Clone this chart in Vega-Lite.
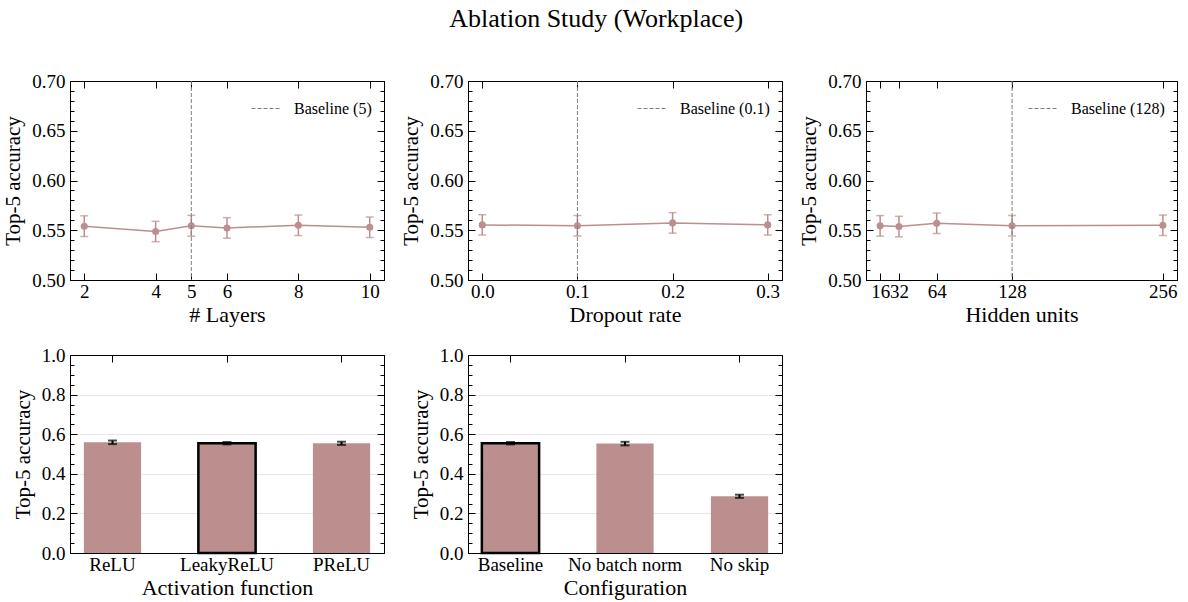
{
  "$schema": "https://vega.github.io/schema/vega-lite/v6.json",
  "title": {"text": "Ablation Study (Workplace)", "anchor": "middle", "offset": 40, "dx": 6},
  "padding": {"left": 2, "right": 8, "top": 5, "bottom": 5},
  "background": "white",
  "columns": 3,
  "spacing": {"row": 75, "column": 84},
  "bounds": "flush",
  "resolve": {"scale": {"color": "independent"}, "legend": {"color": "independent"}},
  "concat": [
        {
          "width": 314, "height": 199,
          "data": {"values": [
            {"layers": 2, "acc": 0.5540, "lo": 0.5437, "hi": 0.5645},
            {"layers": 4, "acc": 0.5487, "lo": 0.5385, "hi": 0.5590},
            {"layers": 5, "acc": 0.5545, "lo": 0.5440, "hi": 0.5650},
            {"layers": 6, "acc": 0.5523, "lo": 0.5420, "hi": 0.5627},
            {"layers": 8, "acc": 0.5550, "lo": 0.5447, "hi": 0.5653},
            {"layers": 10, "acc": 0.5530, "lo": 0.5427, "hi": 0.5633}
          ]},
          "layer": [
            {"mark": {"type": "errorbar", "color": "#BC8F8F", "thickness": 1.5, "ticks": {"size": 8}},
             "encoding": {
               "x": {"field": "layers", "type": "quantitative", "scale": {"domain": [1.6, 10.4], "nice": false, "zero": false}, "axis": null},
               "y": {"field": "lo", "type": "quantitative", "scale": {"domain": [0.5, 0.7], "nice": false, "zero": false}, "axis": null},
               "y2": {"field": "hi"}}},
            {"mark": {"type": "line", "color": "#BC8F8F", "strokeWidth": 1.5},
             "encoding": {
               "x": {"field": "layers", "type": "quantitative", "scale": {"domain": [1.6, 10.4], "nice": false, "zero": false}, "axis": {"title": "# Layers", "values": [2, 4, 5, 6, 8, 10], "format": "d"}},
               "y": {"field": "acc", "type": "quantitative", "scale": {"domain": [0.5, 0.7], "nice": false, "zero": false}, "axis": {"title": "Top-5 accuracy", "values": [0.5, 0.55, 0.6, 0.65, 0.7], "format": ".2f"}}}},
            {"mark": {"type": "point", "filled": true, "size": 50, "color": "#BC8F8F", "opacity": 1},
             "encoding": {
               "x": {"field": "layers", "type": "quantitative", "scale": {"domain": [1.6, 10.4], "nice": false, "zero": false}, "axis": {"orient": "top", "labels": false, "title": null, "values": [2, 4, 5, 6, 8, 10]}},
               "y": {"field": "acc", "type": "quantitative", "scale": {"domain": [0.5, 0.7], "nice": false, "zero": false}, "axis": {"orient": "right", "labels": false, "title": null, "values": [0.5, 0.55, 0.6, 0.65, 0.7]}}}},
            {"mark": {"type": "point", "opacity": 0},
             "encoding": {
               "x": {"field": "layers", "type": "quantitative", "scale": {"domain": [1.6, 10.4], "nice": false, "zero": false}, "axis": null},
               "y": {"field": "acc", "type": "quantitative", "scale": {"domain": [0.5, 0.7], "nice": false, "zero": false}, "axis": {"orient": "left", "labels": false, "title": null, "domain": false, "tickSize": -4, "values": [0.51, 0.52, 0.53, 0.54, 0.56, 0.57, 0.58, 0.59, 0.61, 0.62, 0.63, 0.64, 0.66, 0.67, 0.68, 0.69]}}}},
            {"mark": {"type": "point", "opacity": 0},
             "encoding": {
               "x": {"field": "layers", "type": "quantitative", "scale": {"domain": [1.6, 10.4], "nice": false, "zero": false}, "axis": null},
               "y": {"field": "acc", "type": "quantitative", "scale": {"domain": [0.5, 0.7], "nice": false, "zero": false}, "axis": {"orient": "right", "labels": false, "title": null, "domain": false, "tickSize": -4, "values": [0.51, 0.52, 0.53, 0.54, 0.56, 0.57, 0.58, 0.59, 0.61, 0.62, 0.63, 0.64, 0.66, 0.67, 0.68, 0.69]}}}},
            {"data": {"values": [{"layers": 5, "label": "Baseline (5)"}]},
             "mark": {"type": "rule", "strokeDash": [4, 2], "strokeWidth": 1},
             "encoding": {
               "x": {"field": "layers", "type": "quantitative", "scale": {"domain": [1.6, 10.4], "nice": false, "zero": false}, "axis": null},
               "color": {"field": "label", "type": "nominal", "scale": {"range": ["#808080"]}, "legend": {"title": null, "orient": "top-right", "offset": 12, "padding": 0, "symbolType": "stroke", "symbolSize": 900, "symbolDash": [4, 2], "symbolStrokeWidth": 1, "labelOffset": 12}}}}
          ],
          "resolve": {"axis": {"x": "independent", "y": "independent"}}
        },
        {
          "width": 314, "height": 199,
          "data": {"values": [
            {"dropout": 0.0, "acc": 0.5554, "lo": 0.5452, "hi": 0.5656},
            {"dropout": 0.1, "acc": 0.5545, "lo": 0.5442, "hi": 0.5648},
            {"dropout": 0.2, "acc": 0.5574, "lo": 0.5471, "hi": 0.5677},
            {"dropout": 0.3, "acc": 0.5554, "lo": 0.5452, "hi": 0.5656}
          ]},
          "layer": [
            {"mark": {"type": "errorbar", "color": "#BC8F8F", "thickness": 1.5, "ticks": {"size": 8}},
             "encoding": {
               "x": {"field": "dropout", "type": "quantitative", "scale": {"domain": [-0.015, 0.315], "nice": false, "zero": false}, "axis": null},
               "y": {"field": "lo", "type": "quantitative", "scale": {"domain": [0.5, 0.7], "nice": false, "zero": false}, "axis": null},
               "y2": {"field": "hi"}}},
            {"mark": {"type": "line", "color": "#BC8F8F", "strokeWidth": 1.5},
             "encoding": {
               "x": {"field": "dropout", "type": "quantitative", "scale": {"domain": [-0.015, 0.315], "nice": false, "zero": false}, "axis": {"title": "Dropout rate", "values": [0, 0.1, 0.2, 0.3], "format": ".1f"}},
               "y": {"field": "acc", "type": "quantitative", "scale": {"domain": [0.5, 0.7], "nice": false, "zero": false}, "axis": {"title": "Top-5 accuracy", "values": [0.5, 0.55, 0.6, 0.65, 0.7], "format": ".2f"}}}},
            {"mark": {"type": "point", "filled": true, "size": 50, "color": "#BC8F8F", "opacity": 1},
             "encoding": {
               "x": {"field": "dropout", "type": "quantitative", "scale": {"domain": [-0.015, 0.315], "nice": false, "zero": false}, "axis": {"orient": "top", "labels": false, "title": null, "values": [0, 0.1, 0.2, 0.3]}},
               "y": {"field": "acc", "type": "quantitative", "scale": {"domain": [0.5, 0.7], "nice": false, "zero": false}, "axis": {"orient": "right", "labels": false, "title": null, "values": [0.5, 0.55, 0.6, 0.65, 0.7]}}}},
            {"mark": {"type": "point", "opacity": 0},
             "encoding": {
               "x": {"field": "dropout", "type": "quantitative", "scale": {"domain": [-0.015, 0.315], "nice": false, "zero": false}, "axis": null},
               "y": {"field": "acc", "type": "quantitative", "scale": {"domain": [0.5, 0.7], "nice": false, "zero": false}, "axis": {"orient": "left", "labels": false, "title": null, "domain": false, "tickSize": -4, "values": [0.51, 0.52, 0.53, 0.54, 0.56, 0.57, 0.58, 0.59, 0.61, 0.62, 0.63, 0.64, 0.66, 0.67, 0.68, 0.69]}}}},
            {"mark": {"type": "point", "opacity": 0},
             "encoding": {
               "x": {"field": "dropout", "type": "quantitative", "scale": {"domain": [-0.015, 0.315], "nice": false, "zero": false}, "axis": null},
               "y": {"field": "acc", "type": "quantitative", "scale": {"domain": [0.5, 0.7], "nice": false, "zero": false}, "axis": {"orient": "right", "labels": false, "title": null, "domain": false, "tickSize": -4, "values": [0.51, 0.52, 0.53, 0.54, 0.56, 0.57, 0.58, 0.59, 0.61, 0.62, 0.63, 0.64, 0.66, 0.67, 0.68, 0.69]}}}},
            {"data": {"values": [{"dropout": 0.1, "label": "Baseline (0.1)"}]},
             "mark": {"type": "rule", "strokeDash": [4, 2], "strokeWidth": 1},
             "encoding": {
               "x": {"field": "dropout", "type": "quantitative", "scale": {"domain": [-0.015, 0.315], "nice": false, "zero": false}, "axis": null},
               "color": {"field": "label", "type": "nominal", "scale": {"range": ["#808080"]}, "legend": {"title": null, "orient": "top-right", "offset": 12, "padding": 0, "symbolType": "stroke", "symbolSize": 900, "symbolDash": [4, 2], "symbolStrokeWidth": 1, "labelOffset": 12}}}}
          ],
          "resolve": {"axis": {"x": "independent", "y": "independent"}}
        },
        {
          "width": 311, "height": 199,
          "data": {"values": [
            {"hidden": 16, "acc": 0.5544, "lo": 0.5441, "hi": 0.5647},
            {"hidden": 32, "acc": 0.5537, "lo": 0.5434, "hi": 0.5640},
            {"hidden": 64, "acc": 0.5570, "lo": 0.5467, "hi": 0.5673},
            {"hidden": 128, "acc": 0.5545, "lo": 0.5442, "hi": 0.5648},
            {"hidden": 256, "acc": 0.5550, "lo": 0.5447, "hi": 0.5653}
          ]},
          "layer": [
            {"mark": {"type": "errorbar", "color": "#BC8F8F", "thickness": 1.5, "ticks": {"size": 8}},
             "encoding": {
               "x": {"field": "hidden", "type": "quantitative", "scale": {"domain": [4, 268], "nice": false, "zero": false}, "axis": null},
               "y": {"field": "lo", "type": "quantitative", "scale": {"domain": [0.5, 0.7], "nice": false, "zero": false}, "axis": null},
               "y2": {"field": "hi"}}},
            {"mark": {"type": "line", "color": "#BC8F8F", "strokeWidth": 1.5},
             "encoding": {
               "x": {"field": "hidden", "type": "quantitative", "scale": {"domain": [4, 268], "nice": false, "zero": false}, "axis": {"title": "Hidden units", "values": [16, 32, 64, 128, 256], "format": "d"}},
               "y": {"field": "acc", "type": "quantitative", "scale": {"domain": [0.5, 0.7], "nice": false, "zero": false}, "axis": {"title": "Top-5 accuracy", "values": [0.5, 0.55, 0.6, 0.65, 0.7], "format": ".2f"}}}},
            {"mark": {"type": "point", "filled": true, "size": 50, "color": "#BC8F8F", "opacity": 1},
             "encoding": {
               "x": {"field": "hidden", "type": "quantitative", "scale": {"domain": [4, 268], "nice": false, "zero": false}, "axis": {"orient": "top", "labels": false, "title": null, "values": [16, 32, 64, 128, 256]}},
               "y": {"field": "acc", "type": "quantitative", "scale": {"domain": [0.5, 0.7], "nice": false, "zero": false}, "axis": {"orient": "right", "labels": false, "title": null, "values": [0.5, 0.55, 0.6, 0.65, 0.7]}}}},
            {"mark": {"type": "point", "opacity": 0},
             "encoding": {
               "x": {"field": "hidden", "type": "quantitative", "scale": {"domain": [4, 268], "nice": false, "zero": false}, "axis": null},
               "y": {"field": "acc", "type": "quantitative", "scale": {"domain": [0.5, 0.7], "nice": false, "zero": false}, "axis": {"orient": "left", "labels": false, "title": null, "domain": false, "tickSize": -4, "values": [0.51, 0.52, 0.53, 0.54, 0.56, 0.57, 0.58, 0.59, 0.61, 0.62, 0.63, 0.64, 0.66, 0.67, 0.68, 0.69]}}}},
            {"mark": {"type": "point", "opacity": 0},
             "encoding": {
               "x": {"field": "hidden", "type": "quantitative", "scale": {"domain": [4, 268], "nice": false, "zero": false}, "axis": null},
               "y": {"field": "acc", "type": "quantitative", "scale": {"domain": [0.5, 0.7], "nice": false, "zero": false}, "axis": {"orient": "right", "labels": false, "title": null, "domain": false, "tickSize": -4, "values": [0.51, 0.52, 0.53, 0.54, 0.56, 0.57, 0.58, 0.59, 0.61, 0.62, 0.63, 0.64, 0.66, 0.67, 0.68, 0.69]}}}},
            {"data": {"values": [{"hidden": 128, "label": "Baseline (128)"}]},
             "mark": {"type": "rule", "strokeDash": [4, 2], "strokeWidth": 1},
             "encoding": {
               "x": {"field": "hidden", "type": "quantitative", "scale": {"domain": [4, 268], "nice": false, "zero": false}, "axis": null},
               "color": {"field": "label", "type": "nominal", "scale": {"range": ["#808080"]}, "legend": {"title": null, "orient": "top-right", "offset": 12, "padding": 0, "symbolType": "stroke", "symbolSize": 900, "symbolDash": [4, 2], "symbolStrokeWidth": 1, "labelOffset": 12}}}}
          ],
          "resolve": {"axis": {"x": "independent", "y": "independent"}}
        },
        {
          "width": 314, "height": 198,
          "data": {"values": [
            {"activation": "ReLU", "acc": 0.559, "lo": 0.550, "hi": 0.568},
            {"activation": "LeakyReLU", "acc": 0.5545, "lo": 0.5485, "hi": 0.5605},
            {"activation": "PReLU", "acc": 0.554, "lo": 0.546, "hi": 0.562}
          ]},
          "layer": [
            {"mark": {"type": "bar", "color": "#BC8F8F", "stroke": "black", "strokeWidth": 2.5},
             "encoding": {
               "x": {"field": "activation", "type": "nominal", "sort": null, "scale": {"paddingInner": 0.5, "paddingOuter": 0.121}, "axis": {"title": "Activation function", "labelAngle": 0}},
               "y": {"field": "acc", "type": "quantitative", "scale": {"domain": [0, 1], "nice": false}, "axis": {"title": "Top-5 accuracy", "values": [0, 0.2, 0.4, 0.6, 0.8, 1.0], "format": ".1f", "grid": true, "gridColor": "#e6e6e6", "gridWidth": 1}},
               "strokeOpacity": {"condition": {"test": "datum.activation === 'LeakyReLU'", "value": 1}, "value": 0}}},
            {"mark": {"type": "errorbar", "color": "black", "thickness": 2, "ticks": {"size": 9}},
             "encoding": {
               "x": {"field": "activation", "type": "nominal", "sort": null, "scale": {"paddingInner": 0.5, "paddingOuter": 0.121}, "axis": null},
               "y": {"field": "lo", "type": "quantitative", "scale": {"domain": [0, 1], "nice": false}, "axis": null},
               "y2": {"field": "hi"}}},
            {"mark": {"type": "point", "opacity": 0},
             "encoding": {
               "x": {"field": "activation", "type": "nominal", "sort": null, "scale": {"paddingInner": 0.5, "paddingOuter": 0.121}, "axis": {"orient": "top", "labels": false, "title": null}},
               "y": {"field": "acc", "type": "quantitative", "scale": {"domain": [0, 1], "nice": false}, "axis": {"orient": "right", "labels": false, "title": null, "values": [0, 0.2, 0.4, 0.6, 0.8, 1.0]}}}},
            {"mark": {"type": "point", "opacity": 0},
             "encoding": {
               "x": {"field": "activation", "type": "nominal", "sort": null, "scale": {"paddingInner": 0.5, "paddingOuter": 0.121}, "axis": null},
               "y": {"field": "acc", "type": "quantitative", "scale": {"domain": [0, 1], "nice": false}, "axis": {"orient": "left", "labels": false, "title": null, "domain": false, "tickSize": -4, "zindex": 1, "values": [0.05, 0.1, 0.15, 0.25, 0.3, 0.35, 0.45, 0.5, 0.55, 0.65, 0.7, 0.75, 0.85, 0.9, 0.95]}}}},
            {"mark": {"type": "point", "opacity": 0},
             "encoding": {
               "x": {"field": "activation", "type": "nominal", "sort": null, "scale": {"paddingInner": 0.5, "paddingOuter": 0.121}, "axis": null},
               "y": {"field": "acc", "type": "quantitative", "scale": {"domain": [0, 1], "nice": false}, "axis": {"orient": "right", "labels": false, "title": null, "domain": false, "tickSize": -4, "zindex": 1, "values": [0.05, 0.1, 0.15, 0.25, 0.3, 0.35, 0.45, 0.5, 0.55, 0.65, 0.7, 0.75, 0.85, 0.9, 0.95]}}}}
          ],
          "resolve": {"axis": {"x": "independent", "y": "independent"}}
        },
        {
          "width": 314, "height": 198,
          "data": {"values": [
            {"config": "Baseline", "acc": 0.5545, "lo": 0.5485, "hi": 0.5605},
            {"config": "No batch norm", "acc": 0.5525, "lo": 0.5435, "hi": 0.5615},
            {"config": "No skip", "acc": 0.2865, "lo": 0.2785, "hi": 0.2945}
          ]},
          "layer": [
            {"mark": {"type": "bar", "color": "#BC8F8F", "stroke": "black", "strokeWidth": 2.5},
             "encoding": {
               "x": {"field": "config", "type": "nominal", "sort": null, "scale": {"paddingInner": 0.5, "paddingOuter": 0.121}, "axis": {"title": "Configuration", "labelAngle": 0}},
               "y": {"field": "acc", "type": "quantitative", "scale": {"domain": [0, 1], "nice": false}, "axis": {"title": "Top-5 accuracy", "values": [0, 0.2, 0.4, 0.6, 0.8, 1.0], "format": ".1f", "grid": true, "gridColor": "#e6e6e6", "gridWidth": 1}},
               "strokeOpacity": {"condition": {"test": "datum.config === 'Baseline'", "value": 1}, "value": 0}}},
            {"mark": {"type": "errorbar", "color": "black", "thickness": 2, "ticks": {"size": 9}},
             "encoding": {
               "x": {"field": "config", "type": "nominal", "sort": null, "scale": {"paddingInner": 0.5, "paddingOuter": 0.121}, "axis": null},
               "y": {"field": "lo", "type": "quantitative", "scale": {"domain": [0, 1], "nice": false}, "axis": null},
               "y2": {"field": "hi"}}},
            {"mark": {"type": "point", "opacity": 0},
             "encoding": {
               "x": {"field": "config", "type": "nominal", "sort": null, "scale": {"paddingInner": 0.5, "paddingOuter": 0.121}, "axis": {"orient": "top", "labels": false, "title": null}},
               "y": {"field": "acc", "type": "quantitative", "scale": {"domain": [0, 1], "nice": false}, "axis": {"orient": "right", "labels": false, "title": null, "values": [0, 0.2, 0.4, 0.6, 0.8, 1.0]}}}},
            {"mark": {"type": "point", "opacity": 0},
             "encoding": {
               "x": {"field": "config", "type": "nominal", "sort": null, "scale": {"paddingInner": 0.5, "paddingOuter": 0.121}, "axis": null},
               "y": {"field": "acc", "type": "quantitative", "scale": {"domain": [0, 1], "nice": false}, "axis": {"orient": "left", "labels": false, "title": null, "domain": false, "tickSize": -4, "zindex": 1, "values": [0.05, 0.1, 0.15, 0.25, 0.3, 0.35, 0.45, 0.5, 0.55, 0.65, 0.7, 0.75, 0.85, 0.9, 0.95]}}}},
            {"mark": {"type": "point", "opacity": 0},
             "encoding": {
               "x": {"field": "config", "type": "nominal", "sort": null, "scale": {"paddingInner": 0.5, "paddingOuter": 0.121}, "axis": null},
               "y": {"field": "acc", "type": "quantitative", "scale": {"domain": [0, 1], "nice": false}, "axis": {"orient": "right", "labels": false, "title": null, "domain": false, "tickSize": -4, "zindex": 1, "values": [0.05, 0.1, 0.15, 0.25, 0.3, 0.35, 0.45, 0.5, 0.55, 0.65, 0.7, 0.75, 0.85, 0.9, 0.95]}}}}
          ],
          "resolve": {"axis": {"x": "independent", "y": "independent"}}
        }
  ],
  "config": {
    "font": "Liberation Serif",
    "view": {"stroke": "black", "strokeWidth": 1},
    "axis": {"labelFont": "Liberation Serif", "titleFont": "Liberation Serif", "labelFontSize": 19, "titleFontWeight": "normal", "labelColor": "black", "titleColor": "black", "domainColor": "black", "domainWidth": 1, "tickColor": "black", "tickWidth": 1, "tickSize": -7, "grid": false, "labelFlush": false, "labelOverlap": false},
    "axisX": {"titleFontSize": 22, "titlePadding": 3, "labelPadding": 9},
    "axisY": {"titleFontSize": 21, "titlePadding": 8, "labelPadding": 12},
    "legend": {"labelFont": "Liberation Serif", "labelFontSize": 16, "labelColor": "black"},
    "title": {"font": "Liberation Serif", "fontSize": 26, "fontWeight": "normal", "color": "black"}
  }
}
